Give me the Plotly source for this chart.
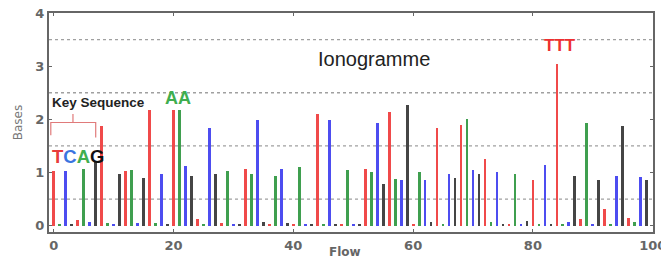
import plotly.graph_objects as go

flow_order = ["T", "A", "C", "G"]
flows = list(range(100))
values = [
    1.02, 0.02, 1.03, 0.03, 0.10, 1.07, 0.07, 1.20, 1.87, 0.05,
    0.03, 0.98, 1.02, 1.05, 0.05, 0.89, 2.17, 0.05, 0.98, 0.02,
    2.17, 2.17, 1.12, 0.94, 0.13, 0.02, 1.83, 0.98, 0.05, 1.03,
    0.02, 0.02, 1.07, 0.97, 1.98, 0.06, 0.03, 0.94, 1.06, 0.05,
    0.02, 1.10, 0.04, 0.02, 2.10, 0.02, 1.98, 0.02, 0.03, 1.04,
    0.02, 0.02, 1.07, 1.00, 1.94, 0.79, 2.14, 0.87, 0.85, 2.26,
    0.02, 1.00, 0.85, 0.07, 1.83, 0.02, 0.97, 0.90, 1.90, 2.00,
    1.04, 0.97, 1.26, 0.07, 1.00, 0.02, 0.04, 0.98, 0.02, 0.08,
    0.85, 0.02, 1.14, 0.02, 3.05, 0.03, 0.06, 0.94, 0.13, 1.94,
    0.02, 0.85, 0.32, 0.02, 0.94, 1.87, 0.14, 0.07, 0.92, 0.86,
]
base_colors = {"T": "#f04a4a", "A": "#3f9f4f", "C": "#4d4df0", "G": "#454545"}
x_ticks = [0, 20, 40, 60, 80, 100]
y_ticks = [0, 1, 2, 3, 4]
grid_levels = [0.5, 1.5, 2.5, 3.5]

fig = go.Figure()
for i, b in enumerate(flow_order):
    xs = [f for f in flows if f % 4 == i]
    ys = [values[f] for f in xs]
    fig.add_trace(go.Bar(x=xs, y=ys, name=b, marker=dict(color=base_colors[b], line=dict(width=0)),
                         width=0.46, showlegend=False))

for g in grid_levels:
    fig.add_hline(y=g, line=dict(color="#a0a0a0", width=1.3, dash="dot"), layer="below")

# key sequence bracket
fig.add_shape(type="path", xref="x", yref="y",
              path="M -0.5,1.70 L -0.5,1.94 L 7.0,1.94 L 7.0,1.66 M 3.2,1.94 L 3.2,2.10",
              line=dict(color="#e07a7a", width=1.2))

fig.add_annotation(x=0.001, xref="paper", y=2.32, xanchor="left", text="<b>Key Sequence</b>",
                   showarrow=False, font=dict(size=13.5, color="#222", family="Liberation Sans"))
fig.add_annotation(x=0.001, xref="paper", y=1.30, xanchor="left", showarrow=False,
                   text="<b><span style='color:#e83c3c'>T</span><span style='color:#3a74e0'>C</span>"
                        "<span style='color:#3fae4f'>A</span><span style='color:#111'>G</span></b>",
                   font=dict(size=18.5, family="Liberation Sans"))
fig.add_annotation(x=20.8, y=2.40, text="<b>AA</b>", showarrow=False,
                   font=dict(size=18, color="#3fae4f", family="Liberation Sans"))
fig.add_annotation(x=84.6, y=3.38, text="<b>TTT</b>", showarrow=False,
                   font=dict(size=17, color="#ee3030", family="Liberation Sans"))
fig.add_annotation(x=53.4, y=3.13, text="Ionogramme", showarrow=False,
                   font=dict(size=20, color="#222", family="Liberation Sans"))
fig.add_annotation(x=0.49, xref="paper", y=-0.09, yref="paper", yanchor="middle",
                   text="<b>Flow</b>", showarrow=False,
                   font=dict(size=12, color="#666", family="DejaVu Sans"))

fig.update_layout(
    width=661, height=263,
    margin=dict(l=49, r=8, t=13, b=31, autoexpand=False),
    paper_bgcolor="white", plot_bgcolor="white",
    bargap=0,
    font=dict(family="DejaVu Sans", color="#555"),
    xaxis=dict(range=[-0.8, 100.05], tickvals=x_ticks, showgrid=False, zeroline=False,
               showline=True, linecolor="#666", linewidth=2, mirror="ticks",
               ticks="inside", ticklen=3, tickcolor="#666", automargin=False,
               ticklabeloverflow="allow",
               tickfont=dict(size=13, color="#666", weight="bold")),
    yaxis=dict(range=[-0.12, 4], tickvals=y_ticks, showgrid=False, zeroline=False,
               showline=True, linecolor="#666", linewidth=2, mirror="ticks",
               ticks="inside", ticklen=3, tickcolor="#666", automargin=False,
               ticklabeloverflow="allow",
               tickfont=dict(size=13, color="#666", weight="bold"),
               title=dict(text="Bases", font=dict(size=12, color="#777"), standoff=10)),
)

fig.write_html("out.html", config={"displayModeBar": False},
               post_script="document.body.style.margin='0';")
